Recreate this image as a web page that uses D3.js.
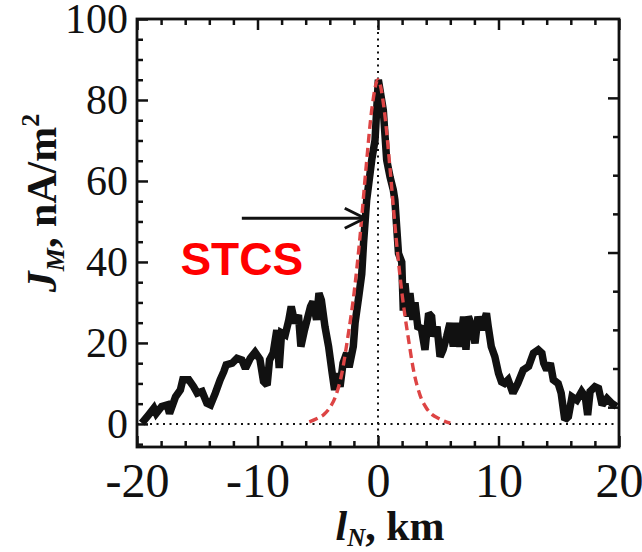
<!DOCTYPE html>
<html>
<head>
<meta charset="utf-8">
<script src="https://cdn.jsdelivr.net/npm/d3@7"></script>
<style>
  body { margin: 0; background: #fff; }
  .tick text { font-family: "Liberation Serif", "Times New Roman", serif; fill: #111; }
</style>
</head>
<body>
<div id="chart"></div>
<script>
// measured current density along the normal (km, nA/m^2)
var lN = [-19.6, -19.05, -18.6, -18.4, -17.95, -17.5, -17.3, -16.8, -16.4, -16.2, -15.7, -15.3, -15.0, -14.6, -14.2, -13.9,
  -13.5, -13.1, -12.8, -12.6, -12.1, -11.7, -11.3, -11.0, -10.6, -10.2, -9.8, -9.5, -9.2, -9.0, -8.7, -8.4, -8.2, -8.0,
  -7.7, -7.4, -7.2, -6.9, -6.6, -6.4, -6.1, -5.6, -5.4, -5.1, -4.9, -4.7, -4.4, -4.1, -3.8, -3.6, -3.4, -3.15, -2.9,
  -2.6, -2.4, -2.05, -1.9, -1.6, -1.35, -1.2, -0.94, -0.52, -0.25, 0.03, 0.44, 0.72, 1.0, 1.27, 1.4, 1.55, 1.7, 1.97,
  2.1, 2.24, 2.5, 2.65, 2.9, 3.07, 3.3, 3.6, 3.9, 4.2, 4.45, 4.6, 4.9, 5.15, 5.4, 5.7, 5.97, 6.25, 6.5, 6.8, 7.1, 7.3,
  7.5, 7.8, 8.05, 8.3, 8.6, 9.0, 9.15, 9.4, 9.7, 10.0, 10.25, 10.5, 10.8, 11.2, 11.6, 12.05, 12.5, 12.9, 13.3, 13.6,
  13.75, 14.0, 14.3, 14.55, 14.95, 15.2, 15.5, 15.8, 16.1, 16.5, 16.9, 17.2, 17.4, 17.6, 18.0, 18.3, 18.6, 19.0, 19.4, 19.8];
var jM = [0.2, 2.2, 3.9, 2.6, 4.3, 4.7, 2.6, 6.7, 8.4, 10.9, 10.9, 9.2, 7.6, 8.0, 5.1, 4.7,
  7.6, 10.9, 12.9, 14.6, 15.0, 16.2, 15.8, 13.7, 16.2, 17.7, 16.0, 10.5, 9.6, 15.8, 17.5, 23.2, 13.8, 22.5,
  22.0, 25.7, 29.0, 24.9, 26.9, 19.1, 23.2, 29.0, 30.2, 25.7, 32.3, 30.6, 24.0, 19.1, 12.5, 8.4, 12.5, 9.2, 15.0,
  17.5, 14.0, 19.1, 25.0, 31.4, 37.0, 44.6, 55.3, 65.2, 70.0, 85.0, 77.5, 65.2, 61.0, 57.8, 55.3, 48.7, 42.1, 40.0,
  28.0, 34.7, 26.5, 32.3, 25.7, 30.0, 24.0, 23.6, 18.3, 27.3, 26.5, 21.6, 24.0, 16.6, 18.3, 21.6, 24.9, 19.1, 24.9, 19.1, 26.5, 18.3,
  26.5, 24.0, 19.9, 26.5, 23.2, 27.3, 24.0, 19.1, 16.6, 12.5, 10.4, 10.0, 10.9, 7.6, 10.0, 13.3, 14.2, 17.5, 18.3, 17.5,
  15.0, 13.3, 15.0, 10.9, 10.0, 7.6, 1.0, 1.8, 6.7, 5.9, 8.0, 6.7, 2.2, 8.0, 9.2, 8.8, 4.7, 6.3, 5.1, 4.3];

// fitted STCS profile (red dashed)
var fitX = [-5.7, -5.0, -4.5, -4.0, -3.5, -3.0, -2.5, -2.0, -1.5, -1.0, -0.5, 0, 0.5, 1.0, 1.5, 2.0, 2.5, 3.0, 3.5, 4.0, 4.5, 5.0, 5.5, 6.0];
var fitJ = [0.5, 1.4, 2.3, 4.0, 7.0, 12.5, 21.5, 32.0, 46.0, 63.0, 78.0, 85.0, 78.0, 63.0, 46.0, 32.0, 21.5, 12.5, 7.0, 4.0, 2.3, 1.4, 0.7, 0.2];

var xMajor = [-20, -10, 0, 10, 20];
var xMinor = [-18, -16, -14, -12, -8, -6, -4, -2, 2, 4, 6, 8, 12, 14, 16, 18];
var yMajor = [0, 20, 40, 60, 80, 100];
var yMinor = [-5, 5, 10, 15, 25, 30, 35, 45, 50, 55, 65, 70, 75, 85, 90, 95];
var rMajor = [0, 40, 80];
var rMinor = [10, 20, 30, 50, 60, 70, 90];

var arrowFrom = [-11.3, 50.8], arrowTo = [-1.1, 50.8];
var labelPos = [-16.4, 36.8];

var margin = {top: 19, right: 23, bottom: 105, left: 137},
    width = 642 - margin.left - margin.right,
    height = 552 - margin.top - margin.bottom;

var svg = d3.select("#chart").append("svg")
    .attr("width", 642).attr("height", 552)
    .style("background", "#fff")
  .append("g")
    .attr("transform", "translate(" + margin.left + "," + margin.top + ")");

var x = d3.scaleLinear().domain([-20, 20]).range([0, width]);
var y = d3.scaleLinear().domain([-5.7, 100]).range([height, 0]);
// right-hand axis has its own tick spacing
var yR = d3.scaleLinear().domain([-10.3, 100.4]).range([height, 0]);

// plain hyphen for negatives, as in the original
var plain = function(d) { return String(d); };

function styleAxis(g) {
  g.select(".domain").remove();
  g.selectAll(".tick line").attr("stroke", "#111").attr("stroke-width", 2.5);
}

// minor ticks
svg.append("g").attr("transform", "translate(0," + height + ")")
  .call(d3.axisBottom(x).tickValues(xMinor).tickSize(-6).tickFormat(""))
  .call(styleAxis);
svg.append("g")
  .call(d3.axisTop(x).tickValues(xMinor).tickSize(-6).tickFormat(""))
  .call(styleAxis);
svg.append("g")
  .call(d3.axisLeft(y).tickValues(yMinor).tickSize(-6).tickFormat(""))
  .call(styleAxis);
svg.append("g").attr("transform", "translate(" + width + ",0)")
  .call(d3.axisRight(yR).tickValues(rMinor).tickSize(-6).tickFormat(""))
  .call(styleAxis);

// major ticks with labels
svg.append("g").attr("transform", "translate(0," + height + ")")
  .call(d3.axisBottom(x).tickValues(xMajor).tickSize(-11).tickPadding(16).tickFormat(plain))
  .call(styleAxis)
  .selectAll("text").attr("font-size", 48);
svg.append("g")
  .call(d3.axisTop(x).tickValues(xMajor).tickSize(-11).tickFormat(""))
  .call(styleAxis);
svg.append("g")
  .call(d3.axisLeft(y).tickValues(yMajor).tickSize(-11).tickPadding(9).tickFormat(plain))
  .call(styleAxis)
  .selectAll("text").attr("font-size", 42);
svg.append("g").attr("transform", "translate(" + width + ",0)")
  .call(d3.axisRight(yR).tickValues(rMajor).tickSize(-11).tickFormat(""))
  .call(styleAxis);

// dotted reference lines
svg.append("line")
  .attr("x1", 0).attr("x2", width).attr("y1", y(0)).attr("y2", y(0))
  .attr("stroke", "#111").attr("stroke-width", 2).attr("stroke-dasharray", "2,4.5");
svg.append("line")
  .attr("x1", x(0)).attr("x2", x(0)).attr("y1", 0).attr("y2", height)
  .attr("stroke", "#111").attr("stroke-width", 2).attr("stroke-dasharray", "2,4.5");

// measured profile
var line = d3.line().x(function(d, i) { return x(lN[i]); }).y(function(d) { return y(d); });
svg.append("path")
  .attr("d", line(jM))
  .attr("fill", "none").attr("stroke", "#111").attr("stroke-width", 7.5)
  .attr("stroke-linejoin", "miter").attr("stroke-miterlimit", 2);

// fit
var fitLine = d3.line().curve(d3.curveMonotoneX)
  .x(function(d, i) { return x(fitX[i]); }).y(function(d) { return y(d); });
svg.append("path")
  .attr("d", fitLine(fitJ))
  .attr("fill", "none").attr("stroke", "#dd4444").attr("stroke-width", 3.4)
  .attr("stroke-dasharray", "9,5");

// frame
svg.append("rect")
  .attr("width", width).attr("height", height)
  .attr("fill", "none").attr("stroke", "#111").attr("stroke-width", 2.8);

// arrow
var ax1 = x(arrowFrom[0]), ax2 = x(arrowTo[0]), ay = y(arrowTo[1]);
svg.append("line").attr("x1", ax1).attr("x2", ax2).attr("y1", ay).attr("y2", ay)
  .attr("stroke", "#111").attr("stroke-width", 3);
svg.append("path")
  .attr("d", "M" + (ax2 - 20) + "," + (ay - 10) + "L" + ax2 + "," + ay + "L" + (ax2 - 20) + "," + (ay + 10))
  .attr("fill", "none").attr("stroke", "#111").attr("stroke-width", 3);

svg.append("text")
  .attr("x", x(labelPos[0])).attr("y", y(labelPos[1]))
  .attr("font-family", "Liberation Sans, Arial, sans-serif").attr("font-weight", "bold")
  .attr("font-size", 46).attr("fill", "#ff0000")
  .text("STCS");

// axis titles
var yt = svg.append("text")
  .attr("transform", "translate(" + (56 - margin.left) + "," + (203 - margin.top) + ") rotate(-90)")
  .attr("text-anchor", "middle")
  .attr("font-family", "Liberation Serif, Times New Roman, serif")
  .attr("font-weight", "bold").attr("font-size", 42).attr("fill", "#111");
yt.append("tspan").attr("font-style", "italic").text("J");
yt.append("tspan").attr("font-style", "italic").attr("font-size", 26).attr("dy", 8).text("M");
yt.append("tspan").attr("dy", -8).text(", nA/m");
yt.append("tspan").attr("font-size", 26).attr("dy", -17).text("2");

var xt = svg.append("text")
  .attr("x", 390 - margin.left).attr("y", 540 - margin.top)
  .attr("text-anchor", "middle")
  .attr("font-family", "Liberation Serif, Times New Roman, serif")
  .attr("font-weight", "bold").attr("font-size", 42).attr("fill", "#111");
xt.append("tspan").attr("font-style", "italic").text("l");
xt.append("tspan").attr("font-style", "italic").attr("font-size", 25).attr("dy", 6).text("N");
xt.append("tspan").attr("dy", -6).text(", km");
</script>
</body>
</html>
